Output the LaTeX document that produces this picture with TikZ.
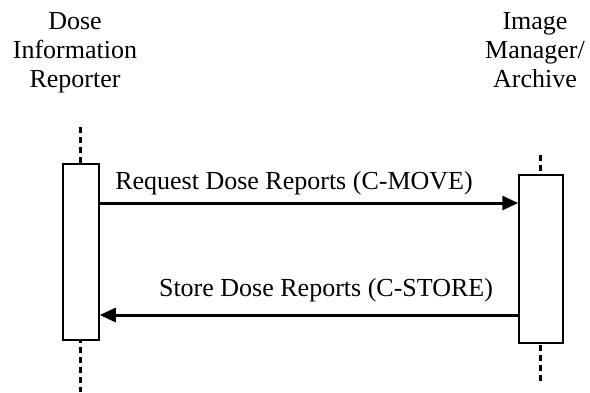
\documentclass[tikz,border=0pt]{standalone}
\usepackage{fontspec}
\setmainfont{Liberation Serif}
\usetikzlibrary{arrows.meta}
\begin{document}
\begin{tikzpicture}[x=1pt,y=-1pt,
  lifeline/.style={line width=3pt,dash pattern=on 6pt off 4pt},
  actbox/.style={draw,line width=1.5pt,fill=white},
  msg/.style={line width=3pt,-{Triangle[length=16pt,width=14pt]}},
  lbl/.style={font=\fontsize{26}{29}\selectfont},
  head/.style={font=\fontsize{26}{29}\selectfont,align=center,anchor=base}]
\useasboundingbox (0,0) rectangle (590,392);
% headers
\node[head] (hl) at (75,87) {Dose\\Information\\Reporter};
\node[head] (hr) at (535,87) {Image\\Manager/\\Archive};
% lifelines
\coordinate (lt) at (80,127);
\coordinate (lb) at (80,392);
\coordinate (rt) at (540,155);
\coordinate (rb) at (540,382);
\draw[lifeline] (lt) -- (lb);
\draw[lifeline] (rt) -- (rb);
% activation boxes
\node[actbox,minimum width=36pt,minimum height=176pt,inner sep=0pt] (al) at (81,252) {};
\node[actbox,minimum width=44pt,minimum height=168pt,inner sep=0pt] (ar) at (541,259) {};
% messages
\draw[msg] (al.east |- 0,203) -- (ar.west |- 0,203);
\draw[msg] (ar.west |- 0,315) -- (al.east |- 0,315);
\node[lbl] (m1) at (294,183) {Request Dose Reports (C-MOVE)};
\node[lbl] (m2) at (326,290) {Store Dose Reports (C-STORE)};
\end{tikzpicture}
\end{document}
